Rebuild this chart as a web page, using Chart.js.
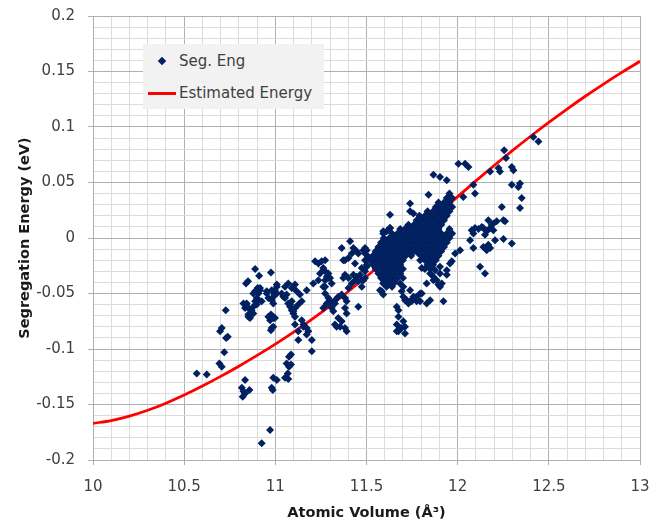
<!DOCTYPE html>
<html lang="en">
<head>
<meta charset="UTF-8">
<title>Segregation Energy vs Atomic Volume</title>
<script src="https://cdn.jsdelivr.net/npm/chart.js"></script>
<style>
  body { margin: 0; background: #fff; }
  .wrap { position: relative; width: 657px; height: 522px; }
  #grafico { position: absolute; left: 0; top: 0; }
  .legenda {
    position: absolute; left: 143px; top: 44px; width: 181px; height: 65px;
    background: #f2f2f2; font: 15px 'DejaVu Sans', sans-serif; color: #404040;
  }
  .legenda .item { position: absolute; left: 36px; line-height: 18px; white-space: nowrap; }
  .legenda .diamante {
    position: absolute; left: 16px; top: 14px; width: 6px; height: 6px;
    background: #002060; transform: rotate(45deg);
  }
  .legenda .linha { position: absolute; left: 5px; top: 48px; width: 28px; height: 3px; background: #ff0000; }
</style>
</head>
<body>
<div class="wrap">
  <canvas id="grafico" width="657" height="522"></canvas>
  <div class="legenda">
    <span class="diamante"></span><span class="item" style="top:8px">Seg. Eng</span>
    <span class="linha"></span><span class="item" style="top:40px">Estimated Energy</span>
  </div>
</div>

<script>
  // tick labels shown on the major grid lines
  const xMajor = [10, 10.5, 11, 11.5, 12, 12.5, 13];
  const yMajor = [-0.2, -0.15, -0.1, -0.05, 0, 0.05, 0.1, 0.15, 0.2];

  // fitted curve (Estimated Energy)
  const fitVolume = [10.0, 10.1, 10.2, 10.3, 10.4, 10.5, 10.6, 10.7, 10.8, 10.9,
    11.0, 11.1, 11.2, 11.3, 11.4, 11.5, 11.6, 11.7, 11.8, 11.9,
    12.0, 12.1, 12.2, 12.3, 12.4, 12.5, 12.6, 12.7, 12.8, 12.9, 13.0];
  const fitEnergy = [-0.1670, -0.1645, -0.1605, -0.1552, -0.1488, -0.1415, -0.1334, -0.1247, -0.1155, -0.1058,
    -0.0956, -0.0848, -0.0733, -0.0611, -0.0482, -0.0347, -0.0207, -0.0064, 0.0081, 0.0227,
    0.0373, 0.0515, 0.0653, 0.0787, 0.0917, 0.1042, 0.1162, 0.1277, 0.1387, 0.1492, 0.1592];

  // scattered sites, [volume, energy]
  const segSpread = [
    [10.569, -0.122], [10.624, -0.123], [10.693, -0.113], [10.706, -0.116], [10.720, -0.103],
    [10.697, -0.084], [10.706, -0.081], [10.730, -0.090], [10.739, -0.089], [10.728, -0.065],
    [10.816, -0.135], [10.825, -0.138], [10.821, -0.143], [10.834, -0.140], [10.858, -0.137], [10.834, -0.128],
    [10.971, -0.173], [10.925, -0.185],
    [10.989, -0.126], [11.008, -0.128], [10.986, -0.137], [10.980, -0.135],
    [11.053, -0.126], [11.071, -0.127], [11.068, -0.122], [11.075, -0.116], [11.086, -0.114],
    [11.062, -0.113], [11.075, -0.107], [11.086, -0.105],
    [11.200, -0.102], [11.126, -0.092], [11.200, -0.092], [11.172, -0.087],
    [11.145, -0.074], [11.154, -0.078], [11.172, -0.081], [11.181, -0.084],
    [10.971, -0.074], [10.980, -0.081], [10.989, -0.071],
    [10.889, -0.028], [10.911, -0.034], [10.976, -0.031], [10.839, -0.041], [10.850, -0.039],
    [10.903, -0.045], [10.916, -0.047], [10.889, -0.048], [10.907, -0.050], [10.879, -0.050],
    [10.953, -0.050], [10.980, -0.047], [11.008, -0.044], [10.995, -0.051], [10.962, -0.054],
    [10.898, -0.054], [10.889, -0.057], [10.925, -0.057], [10.907, -0.056],
    [10.839, -0.060], [10.852, -0.063], [10.870, -0.065], [10.861, -0.068], [10.852, -0.071],
    [10.879, -0.062], [10.898, -0.060], [10.843, -0.059], [10.834, -0.063], [10.825, -0.059],
    [10.879, -0.068], [10.852, -0.069], [10.861, -0.072],
    [10.962, -0.071], [10.989, -0.072], [10.976, -0.069], [10.998, -0.072],
    [10.989, -0.080], [10.976, -0.083],
    [10.980, -0.056], [10.989, -0.059], [10.953, -0.048], [10.916, -0.045],
    [11.008, -0.042], [10.998, -0.047], [11.008, -0.050], [10.989, -0.053],
    [11.035, -0.050], [11.044, -0.053], [11.062, -0.051], [11.053, -0.054], [11.071, -0.059],
    [11.081, -0.062], [11.090, -0.065], [11.099, -0.068], [11.108, -0.071],
    [11.053, -0.044], [11.071, -0.041], [11.090, -0.045], [11.108, -0.042], [11.117, -0.048],
    [11.135, -0.051], [11.099, -0.045],
    [11.090, -0.057], [11.081, -0.060], [11.108, -0.063], [11.099, -0.066], [11.126, -0.060], [11.145, -0.057],
    [11.108, -0.078], [11.126, -0.084], [11.154, -0.080],
    [11.172, -0.047], [11.208, -0.041], [11.236, -0.038], [11.263, -0.044],
    [11.218, -0.021], [11.236, -0.023], [11.254, -0.021], [11.273, -0.020],
    [11.263, -0.027], [11.273, -0.030], [11.291, -0.032], [11.282, -0.035], [11.300, -0.036],
    [11.309, -0.041], [11.273, -0.044], [11.245, -0.032], [11.263, -0.029], [11.273, -0.038], [11.291, -0.036],
    [11.291, -0.054], [11.300, -0.057], [11.282, -0.060], [11.309, -0.063], [11.327, -0.059],
    [11.318, -0.066], [11.327, -0.056], [11.273, -0.050], [11.282, -0.059], [11.263, -0.063],
    [11.345, -0.053], [11.364, -0.051], [11.382, -0.054], [11.391, -0.057],
    [11.345, -0.072], [11.364, -0.075], [11.355, -0.080], [11.382, -0.081], [11.391, -0.084],
    [11.327, -0.078], [11.336, -0.080], [11.382, -0.063], [11.391, -0.068],
    [11.401, -0.045], [11.419, -0.041], [11.437, -0.038], [11.428, -0.033], [11.382, -0.033],
    [11.373, -0.036], [11.401, -0.036], [11.446, -0.035],
    [11.382, -0.020], [11.401, -0.018], [11.373, -0.020], [11.364, -0.009],
    [11.410, -0.003], [11.428, -0.009], [11.446, -0.012], [11.419, -0.014], [11.437, -0.023],
    [11.455, -0.014], [11.483, -0.011], [11.492, -0.020], [11.501, -0.024],
    [11.474, -0.027], [11.492, -0.030], [11.501, -0.026], [11.465, -0.033], [11.474, -0.038],
    [11.455, -0.039], [11.492, -0.036], [11.483, -0.038], [11.474, -0.044], [11.455, -0.062],
    [11.492, -0.014], [11.501, -0.011], [11.510, -0.017], [11.492, -0.009],
    [11.592, 0.006], [11.629, 0.009], [11.611, 0.006], [11.592, 0.004], [11.592, -0.005],
    [11.584, -0.048], [11.592, -0.051], [11.574, -0.047], [11.574, -0.032], [11.592, -0.041],
    [11.666, -0.062], [11.675, -0.065],
    [11.666, -0.078], [11.675, -0.084], [11.693, -0.081], [11.675, -0.071], [11.702, -0.075],
    [11.711, -0.080], [11.684, -0.081], [11.666, -0.084], [11.711, -0.086], [11.675, -0.083],
    [11.684, -0.041], [11.702, -0.044], [11.693, -0.048], [11.702, -0.053], [11.711, -0.056],
    [11.730, -0.059], [11.748, -0.057], [11.766, -0.054], [11.775, -0.053], [11.803, -0.050],
    [11.794, -0.057], [11.830, -0.059], [11.849, -0.056], [11.775, -0.057], [11.757, -0.053],
    [11.739, -0.057], [11.721, -0.056], [11.739, -0.047], [11.794, -0.050], [11.922, -0.057],
    [11.849, -0.032], [11.867, -0.035], [11.885, -0.038], [11.894, -0.042], [11.913, -0.041],
    [11.876, -0.029], [11.903, -0.026], [11.940, -0.029], [11.958, -0.023], [11.867, -0.021],
    [11.830, -0.041], [11.867, -0.038], [11.903, -0.032], [11.940, -0.033], [11.903, -0.044],
    [11.785, -0.014], [11.794, -0.020], [11.803, -0.027], [11.849, -0.017],
    [12.004, 0.067], [12.041, 0.067], [12.059, 0.064],
    [11.867, 0.057], [11.903, 0.055], [11.940, 0.052],
    [12.255, 0.079], [12.265, 0.072],
    [12.178, 0.060], [12.224, 0.063], [12.232, 0.060], [12.297, 0.064], [12.306, 0.061],
    [12.086, 0.048], [12.095, 0.040], [12.031, 0.037],
    [12.297, 0.048], [12.342, 0.049], [12.333, 0.046],
    [12.351, 0.036], [12.342, 0.027], [12.242, 0.028],
    [12.415, 0.091], [12.443, 0.087],
    [12.168, 0.016], [12.187, 0.012], [12.196, 0.013], [12.214, 0.015], [12.251, 0.016],
    [12.260, 0.015], [12.178, 0.009], [12.159, 0.006], [12.150, 0.003], [12.196, 0.007], [12.141, 0.009],
    [12.077, 0.007], [12.095, 0.009], [12.114, 0.008], [12.132, 0.010], [12.086, 0.004], [12.068, -0.002],
    [12.205, -0.002], [12.251, -0.001], [12.297, -0.005],
    [12.141, -0.008], [12.159, -0.011], [12.168, -0.006], [12.178, -0.009], [12.086, -0.009],
    [12.013, -0.011], [11.986, -0.014],
    [12.123, -0.026], [12.150, -0.032], [11.968, -0.021],
    [11.840, 0.039], [11.739, 0.031], [11.629, 0.021], [11.739, 0.024], [11.757, 0.022],
    [11.721, 0.010], [11.629, 0.009]
  ];

  // dense core of the cloud, one line per energy row
  const segCore = [
    [11.955, 0.040],
    [11.94, 0.036], [11.97, 0.036],
    [11.895, 0.032], [11.925, 0.032], [11.955, 0.032],
    [11.88, 0.028], [11.91, 0.028], [11.94, 0.028], [11.97, 0.028],
    [11.835, 0.024], [11.865, 0.024], [11.895, 0.024], [11.925, 0.024], [11.955, 0.024],
    [11.79, 0.020], [11.82, 0.020], [11.85, 0.020], [11.88, 0.020], [11.91, 0.020], [11.94, 0.020],
    [11.775, 0.016], [11.805, 0.016], [11.835, 0.016], [11.865, 0.016], [11.895, 0.016], [11.925, 0.016],
    [11.73, 0.012], [11.76, 0.012], [11.79, 0.012], [11.82, 0.012], [11.85, 0.012], [11.88, 0.012], [11.91, 0.012],
    [11.685, 0.008], [11.715, 0.008], [11.745, 0.008], [11.775, 0.008], [11.805, 0.008], [11.835, 0.008],
    [11.865, 0.008], [11.895, 0.008], [11.955, 0.008],
    [11.64, 0.004], [11.67, 0.004], [11.70, 0.004], [11.73, 0.004], [11.76, 0.004], [11.79, 0.004],
    [11.82, 0.004], [11.85, 0.004], [11.88, 0.004], [11.91, 0.004], [11.94, 0.004], [11.97, 0.004],
    [11.595, 0.000], [11.625, 0.000], [11.655, 0.000], [11.685, 0.000], [11.715, 0.000], [11.745, 0.000],
    [11.775, 0.000], [11.805, 0.000], [11.835, 0.000], [11.865, 0.000], [11.895, 0.000], [11.925, 0.000], [11.955, 0.000],
    [11.58, -0.004], [11.61, -0.004], [11.64, -0.004], [11.67, -0.004], [11.70, -0.004], [11.73, -0.004],
    [11.76, -0.004], [11.79, -0.004], [11.82, -0.004], [11.85, -0.004], [11.88, -0.004], [11.91, -0.004], [11.94, -0.004],
    [11.565, -0.008], [11.595, -0.008], [11.625, -0.008], [11.655, -0.008], [11.685, -0.008], [11.715, -0.008],
    [11.745, -0.008], [11.775, -0.008], [11.805, -0.008], [11.835, -0.008], [11.865, -0.008], [11.895, -0.008], [11.925, -0.008],
    [11.55, -0.012], [11.58, -0.012], [11.61, -0.012], [11.64, -0.012], [11.67, -0.012], [11.70, -0.012],
    [11.73, -0.012], [11.76, -0.012], [11.79, -0.012], [11.82, -0.012], [11.85, -0.012], [11.88, -0.012], [11.91, -0.012],
    [11.535, -0.016], [11.565, -0.016], [11.595, -0.016], [11.625, -0.016], [11.655, -0.016], [11.685, -0.016],
    [11.715, -0.016], [11.745, -0.016], [11.805, -0.016], [11.835, -0.016], [11.865, -0.016], [11.895, -0.016],
    [11.52, -0.020], [11.55, -0.020], [11.58, -0.020], [11.61, -0.020], [11.64, -0.020], [11.67, -0.020],
    [11.70, -0.020], [11.82, -0.020], [11.85, -0.020], [11.88, -0.020],
    [11.535, -0.024], [11.565, -0.024], [11.595, -0.024], [11.625, -0.024], [11.655, -0.024], [11.685, -0.024],
    [11.835, -0.024], [11.865, -0.024],
    [11.55, -0.028], [11.58, -0.028], [11.61, -0.028], [11.64, -0.028], [11.67, -0.028], [11.70, -0.028],
    [11.82, -0.028], [11.85, -0.028],
    [11.565, -0.032], [11.595, -0.032], [11.625, -0.032], [11.655, -0.032], [11.685, -0.032],
    [11.58, -0.036], [11.61, -0.036], [11.64, -0.036], [11.67, -0.036], [11.70, -0.036],
    [11.595, -0.040], [11.625, -0.040], [11.655, -0.040],
    [11.61, -0.044], [11.64, -0.044]
  ];

  const corMajor = '#b0b0b0';
  const corMinor = '#dcdcdc';

  function ehMajor(valor, lista) {
    return lista.find(m => Math.abs(m - valor) < 1e-6);
  }

  const pontos = segSpread.concat(segCore).map(([x, y]) => ({ x, y }));
  const curva = fitVolume.map((x, i) => ({ x, y: fitEnergy[i] }));

  const fonteTick = { family: "'DejaVu Sans', sans-serif", size: 15 };
  const fonteTitulo = { family: "'DejaVu Sans', sans-serif", size: 14.5, weight: 'bold' };

  new Chart(document.getElementById('grafico'), {
    type: 'scatter',
    data: {
      datasets: [{
        label: 'Seg. Eng',
        data: pontos,
        pointStyle: 'rectRot',
        pointRadius: 4,
        backgroundColor: '#002060',
        borderColor: '#002060',
        borderWidth: 0
      }, {
        label: 'Estimated Energy',
        data: curva,
        showLine: true,
        borderColor: '#ff0000',
        borderWidth: 2.75,
        pointRadius: 0,
        cubicInterpolationMode: 'monotone'
      }]
    },
    options: {
      responsive: false,
      animation: false,
      layout: { padding: { left: 0, right: 17, top: 16, bottom: 0 } },
      plugins: {
        legend: { display: false },
        tooltip: { enabled: false }
      },
      scales: {
        x: {
          type: 'linear',
          min: 10,
          max: 13,
          // fixed height; the edge labels may overflow into the layout padding
          afterFit: s => { s.height = 62; s.paddingLeft = 0; s.paddingRight = 0; },
          ticks: {
            stepSize: 0.1,
            autoSkip: false,
            maxRotation: 0,
            minRotation: 0,
            padding: 13,
            color: '#404040',
            font: fonteTick,
            callback: v => {
              const m = ehMajor(v, xMajor);
              return m === undefined ? '' : String(m);
            }
          },
          grid: {
            tickLength: 5,
            color: c => ehMajor(c.tick.value, xMajor) !== undefined ? corMajor : corMinor,
            tickColor: c => ehMajor(c.tick.value, xMajor) !== undefined ? corMajor : 'rgba(0,0,0,0)'
          },
          border: { color: corMajor },
          title: {
            display: true,
            text: 'Atomic Volume (Å³)',
            color: '#1a1a1a',
            font: fonteTitulo,
            padding: { top: 0, bottom: 0 }
          }
        },
        y: {
          min: -0.2,
          max: 0.2,
          afterFit: s => { s.width = 93; s.paddingTop = 0; s.paddingBottom = 0; },
          ticks: {
            stepSize: 0.01,
            autoSkip: false,
            padding: 13,
            color: '#404040',
            font: fonteTick,
            callback: v => {
              const m = ehMajor(v, yMajor);
              return m === undefined ? '' : String(m);
            }
          },
          grid: {
            tickLength: 5,
            color: c => ehMajor(c.tick.value, yMajor) !== undefined ? corMajor : corMinor,
            tickColor: c => ehMajor(c.tick.value, yMajor) !== undefined ? corMajor : 'rgba(0,0,0,0)'
          },
          border: { color: corMajor },
          title: {
            display: true,
            text: 'Segregation Energy (eV)',
            color: '#1a1a1a',
            font: fonteTitulo,
            padding: { top: 17, bottom: 0 }
          }
        }
      }
    }
  });
</script>
</body>
</html>
